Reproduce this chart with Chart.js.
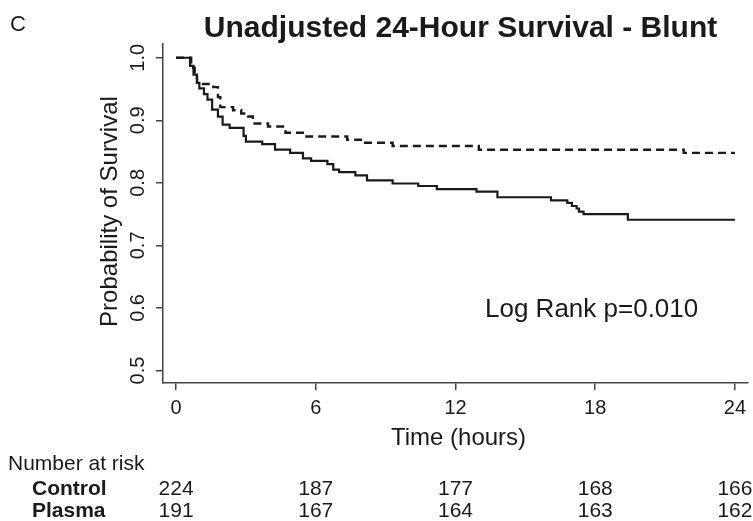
<!DOCTYPE html>
<html>
<head>
<meta charset="utf-8">
<script src="https://cdn.jsdelivr.net/npm/chart.js@4.4.1/dist/chart.umd.min.js"></script>
<style>
  html, body { margin: 0; padding: 0; background: #fff; }
  #wrap { width: 753px; height: 521px; }
</style>
</head>
<body>
<div id="wrap"><canvas id="chart" width="753" height="521"></canvas></div>
<script>
// Kaplan-Meier steps: time (hours) where the curve drops, and survival after the drop
const controlTimes = [0, 0.6, 0.75, 0.9, 1.0, 1.2, 1.35, 1.55, 1.8, 2.0, 2.3, 2.9, 3.0, 3.7, 4.25, 4.9, 5.45, 5.8, 6.5, 6.75, 7.0, 7.7, 8.2, 9.3, 10.4, 11.2, 12.9, 13.8, 16.1, 16.8, 17.0, 17.2, 17.3, 17.5, 19.4, 24];
const controlSurv = [1.0, 0.987, 0.973, 0.960, 0.951, 0.942, 0.933, 0.917, 0.906, 0.893, 0.888, 0.875, 0.866, 0.862, 0.853, 0.848, 0.839, 0.835, 0.830, 0.821, 0.817, 0.812, 0.804, 0.799, 0.795, 0.790, 0.786, 0.777, 0.772, 0.768, 0.763, 0.759, 0.754, 0.750, 0.741, 0.741];

const plasmaTimes = [0, 0.65, 0.8, 0.9, 1.6, 1.8, 1.9, 2.45, 2.8, 3.1, 3.3, 3.95, 4.7, 5.5, 7.35, 8.0, 9.3, 13.0, 21.8, 24];
const plasmaSurv = [1.0, 0.984, 0.969, 0.958, 0.953, 0.937, 0.921, 0.916, 0.911, 0.906, 0.895, 0.890, 0.880, 0.874, 0.869, 0.864, 0.859, 0.853, 0.848, 0.848];

const xTicks = [0, 6, 12, 18, 24];
const yTicks = [0.5, 0.6, 0.7, 0.8, 0.9, 1.0];

const riskGroups = ['Control', 'Plasma'];
const controlAtRisk = [224, 187, 177, 168, 166];
const plasmaAtRisk = [191, 167, 164, 163, 162];

const FONT = '"Liberation Sans", Arial, Helvetica, sans-serif';
const INK = '#1a1a1a';
const AXIS = '#444';

Chart.defaults.font.family = FONT;
Chart.defaults.color = INK;

function toPoints(times, surv) {
    return times.map((t, i) => ({ x: t, y: surv[i] }));
}

// title, p-value, axis titles and the number-at-risk table
const extraText = {
    id: 'extraText',
    afterDraw(chart) {
        const ctx = chart.ctx;
        const area = chart.chartArea;
        const xs = chart.scales.x;
        const mid = (area.left + area.right) / 2;

        ctx.save();
        ctx.fillStyle = INK;
        ctx.textBaseline = 'alphabetic';

        ctx.font = '22px ' + FONT;
        ctx.textAlign = 'left';
        ctx.fillText('C', 10, 31);

        ctx.font = 'bold 30px ' + FONT;
        ctx.textAlign = 'center';
        ctx.fillText('Unadjusted 24-Hour Survival - Blunt', mid + 5, 37);

        ctx.font = '26px ' + FONT;
        ctx.textAlign = 'left';
        ctx.fillText('Log Rank p=0.010', 485, 317);

        ctx.font = '24px ' + FONT;
        ctx.textAlign = 'center';
        ctx.fillText('Time (hours)', mid + 3, 445);

        ctx.save();
        ctx.translate(117, (area.top + area.bottom) / 2 - 2);
        ctx.rotate(-Math.PI / 2);
        ctx.font = '24px ' + FONT;
        ctx.fillText('Probability of Survival', 0, 0);
        ctx.restore();

        ctx.font = '21px ' + FONT;
        ctx.textAlign = 'left';
        ctx.fillText('Number at risk', 8, 470);

        const rows = [controlAtRisk, plasmaAtRisk];
        const baselines = [495, 517];
        rows.forEach((counts, r) => {
            ctx.font = 'bold 21px ' + FONT;
            ctx.textAlign = 'left';
            ctx.fillText(riskGroups[r], 32, baselines[r]);
            ctx.font = '21px ' + FONT;
            ctx.textAlign = 'center';
            counts.forEach((n, i) => {
                ctx.fillText(String(n), xs.getPixelForValue(xTicks[i]), baselines[r]);
            });
        });
        ctx.restore();
    }
};

const ctx = document.getElementById('chart').getContext('2d');
new Chart(ctx, {
    type: 'line',
    data: {
        datasets: [{
            label: 'Control',
            data: toPoints(controlTimes, controlSurv),
            borderColor: INK,
            borderWidth: 2.2,
            stepped: 'before',
            pointRadius: 0,
            fill: false
        }, {
            label: 'Plasma',
            data: toPoints(plasmaTimes, plasmaSurv),
            borderColor: INK,
            borderWidth: 2.4,
            borderDash: [8, 5],
            stepped: 'before',
            pointRadius: 0,
            fill: false
        }]
    },
    options: {
        responsive: false,
        animation: false,
        devicePixelRatio: 1,
        layout: { padding: { top: 44, right: 5, left: 0, bottom: 0 } },
        plugins: {
            legend: { display: false },
            tooltip: { enabled: false }
        },
        scales: {
            x: {
                type: 'linear',
                min: -0.56,
                max: 24.56,
                afterBuildTicks: s => { s.ticks = xTicks.map(v => ({ value: v })); },
                afterFit: s => { s.height = 138; },
                ticks: {
                    autoSkip: false,
                    maxRotation: 0,
                    padding: 6,
                    font: { size: 20 },
                    color: INK
                },
                grid: { drawOnChartArea: false, drawTicks: true, tickLength: 7, color: AXIS, lineWidth: 1.5 },
                border: { display: true, color: AXIS, width: 1.5 }
            },
            y: {
                type: 'linear',
                min: 0.48,
                max: 1.022,
                afterBuildTicks: s => { s.ticks = yTicks.map(v => ({ value: v })); },
                afterFit: s => { s.width = 163; },
                ticks: {
                    minRotation: 90,
                    maxRotation: 90,
                    crossAlign: 'center',
                    padding: 4,
                    font: { size: 20 },
                    color: INK,
                    callback: v => v.toFixed(1)
                },
                grid: { drawOnChartArea: false, drawTicks: true, tickLength: 7, color: AXIS, lineWidth: 1.5 },
                border: { display: true, color: AXIS, width: 1.5 }
            }
        }
    },
    plugins: [extraText]
});
</script>
</body>
</html>
